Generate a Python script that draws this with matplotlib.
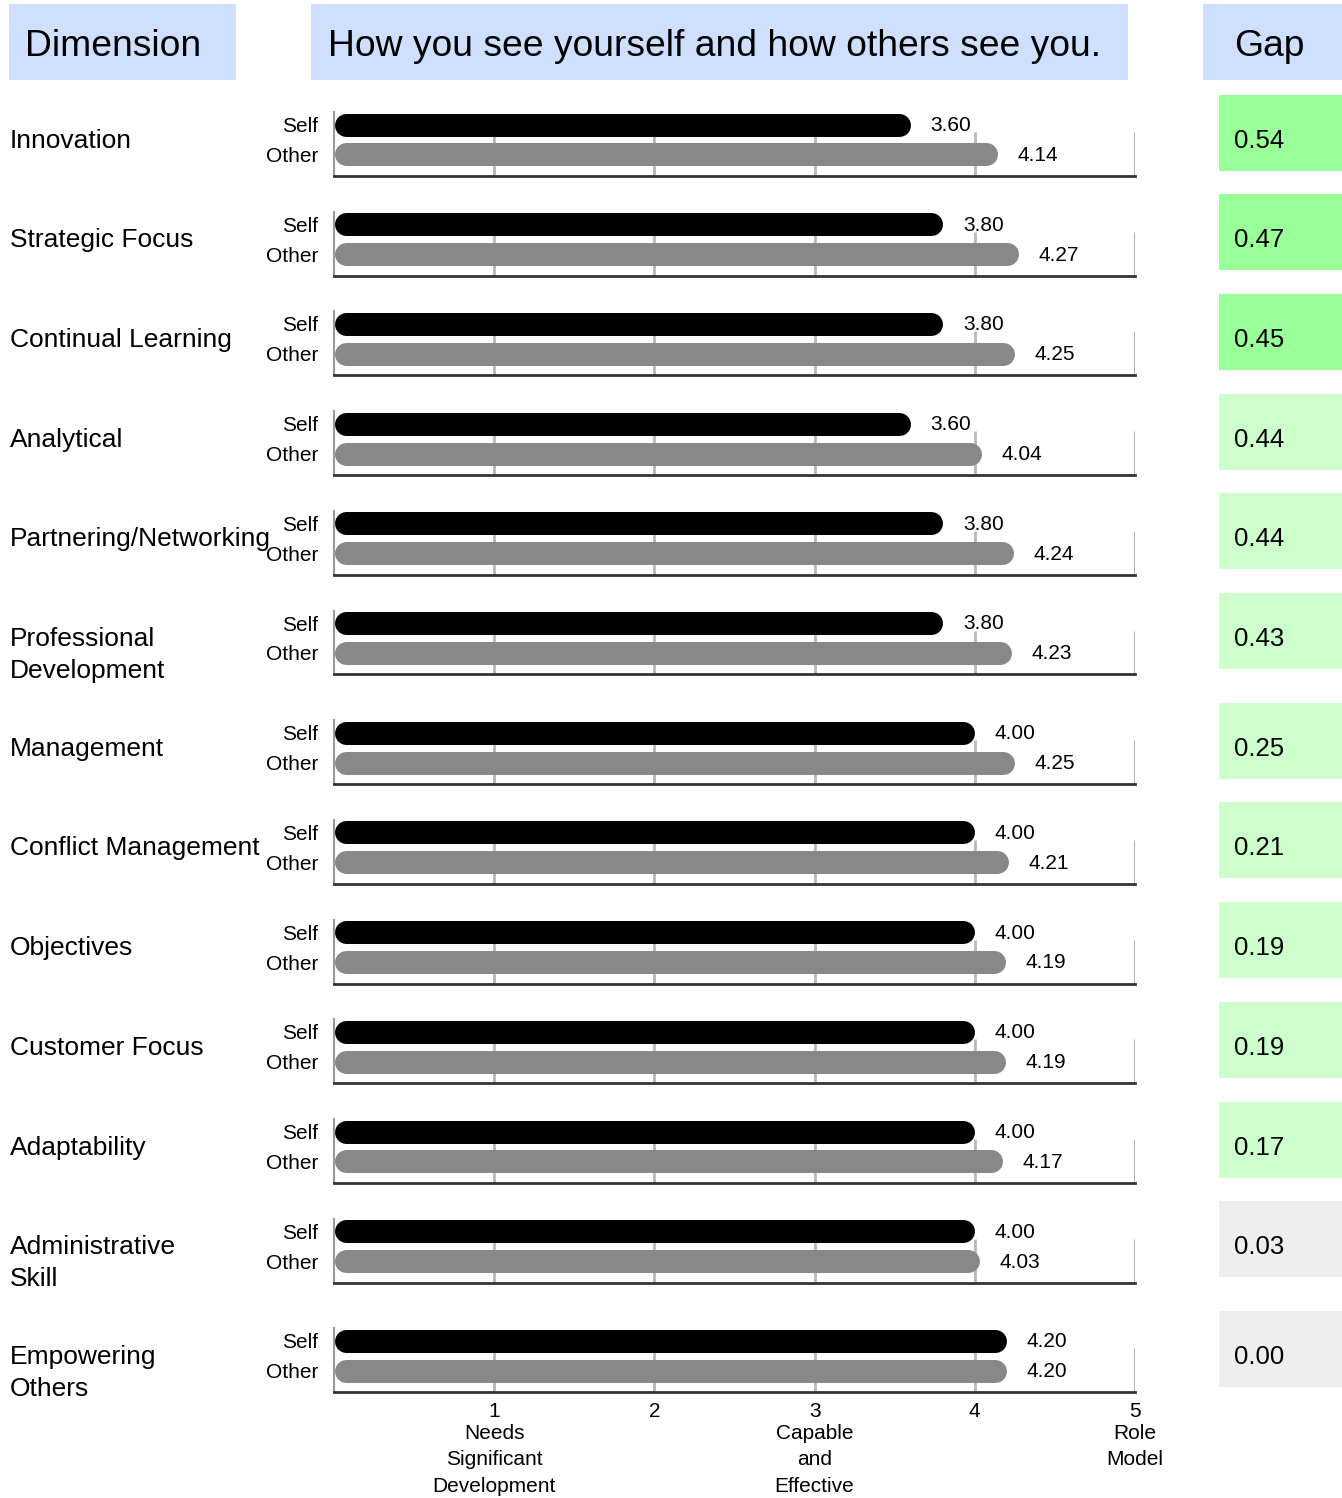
import matplotlib
matplotlib.use("Agg")
import matplotlib.pyplot as plt
from matplotlib.patches import Rectangle

plt.rcParams['font.family'] = ['Liberation Sans', 'DejaVu Sans']

# scores per dimension
dimensions = ["Innovation", "Strategic Focus", "Continual Learning", "Analytical",
              "Partnering/Networking", "Professional\nDevelopment", "Management",
              "Conflict Management", "Objectives", "Customer Focus", "Adaptability",
              "Administrative\nSkill", "Empowering\nOthers"]
self_scores = [3.60, 3.80, 3.80, 3.60, 3.80, 3.80, 4.00, 4.00, 4.00, 4.00, 4.00, 4.00, 4.20]
other_scores = [4.14, 4.27, 4.25, 4.04, 4.24, 4.23, 4.25, 4.21, 4.19, 4.19, 4.17, 4.03, 4.20]
gaps = [0.54, 0.47, 0.45, 0.44, 0.44, 0.43, 0.25, 0.21, 0.19, 0.19, 0.17, 0.03, 0.00]
scale_ticks = [1, 2, 3, 4, 5]
scale_names = {1: "Needs\nSignificant\nDevelopment", 3: "Capable\nand\nEffective",
               5: "Role\nModel"}

W, H = 1342, 1498
fig = plt.figure(figsize=(W / 100, H / 100), dpi=100)

# background axes in pixel units for headers and gap cells
bg = fig.add_axes([0, 0, 1, 1])
bg.set_xlim(0, W)
bg.set_ylim(H, 0)
bg.axis("off")

head_col = "#cfdfff"
bg.add_patch(Rectangle((9, 4), 227, 76, color=head_col, lw=0))
bg.add_patch(Rectangle((311, 4), 817, 76, color=head_col, lw=0))
bg.add_patch(Rectangle((1203, 4), 139, 76, color=head_col, lw=0))
bg.text(25, 46.5, "Dimension", fontsize=26.8, va="center", ha="left")
bg.text(328, 46.5, "How you see yourself and how others see you.", fontsize=26.8,
        va="center", ha="left")
bg.text(1234, 46.5, "Gap", fontsize=26.8, va="center", ha="left")

ax_left, ax_right = 334, 1135
px_unit = (ax_right - ax_left) / 5.0
bar_px = 23
r = (bar_px / 2) / px_unit

y_self = 124.5
for i, name in enumerate(dimensions):
    s, o, g = self_scores[i], other_scores[i], gaps[i]
    two_lines = "\n" in name

    # row axes: Self at y=1, Other at y=0, 30 px apart
    top = y_self - 12.5
    bottom = y_self + 51.5
    ax = fig.add_axes([ax_left / W, 1 - bottom / H, (ax_right - ax_left) / W, (bottom - top) / H])
    ax.set_xlim(0, 5)
    ax.set_ylim(-0.717, 1.417)

    ax.vlines([1, 2, 3, 4], -0.717, 0.75, color="#b8b8b8", lw=2, zorder=1)
    ax.vlines([5], -0.717, 0.75, color="#a8a8a8", lw=2, zorder=1)

    ax.plot([r, s - r], [1, 1], color="black", lw=bar_px * 0.72,
            solid_capstyle="round", zorder=3)
    ax.plot([r, o - r], [0, 0], color="#888888", lw=bar_px * 0.72,
            solid_capstyle="round", zorder=3)
    ax.text(s + 20 / px_unit, 0.97, f"{s:.2f}", fontsize=15, va="center", ha="left", zorder=4)
    ax.text(o + 20 / px_unit, -0.03, f"{o:.2f}", fontsize=15, va="center", ha="left", zorder=4)

    ax.set_yticks([0, 1])
    ax.set_yticklabels(["Other", "Self"], fontsize=15)
    ax.tick_params(axis="y", length=0, pad=11.5)
    ax.spines["top"].set_visible(False)
    ax.spines["right"].set_visible(False)
    ax.spines["left"].set_color("#999999")
    ax.spines["left"].set_linewidth(1.5)
    ax.spines["bottom"].set_color("#333333")
    ax.spines["bottom"].set_linewidth(2)
    ax.patch.set_alpha(0)

    if i == len(dimensions) - 1:
        ax.set_xticks(scale_ticks)
        ax.set_xticklabels([str(t) for t in scale_ticks], fontsize=15)
        ax.tick_params(axis="x", length=0, pad=7)
        for t, desc in scale_names.items():
            ax.annotate(desc, xy=(t, 0), xycoords=("data", "axes fraction"),
                        xytext=(0, -22.5), textcoords="offset points",
                        fontsize=15, ha="center", va="top", linespacing=1.52)
    else:
        ax.set_xticks([])

    # dimension name
    label_y = y_self + (32 if two_lines else 16)
    bg.text(10, label_y, name, fontsize=19, va="center", ha="left", linespacing=1.42)

    # gap cell
    if g >= 0.45:
        gap_col = "#99ff99"
    elif g >= 0.1:
        gap_col = "#ccffcc"
    else:
        gap_col = "#eeeeee"
    bg.add_patch(Rectangle((1219, y_self - 30), 123, 76, color=gap_col, lw=0))
    bg.text(1234, y_self + 16, f"{g:.2f}", fontsize=18.5, va="center", ha="left")

    y_self += 109.7 if two_lines else 99.7

fig.savefig("out.png", dpi=100)
